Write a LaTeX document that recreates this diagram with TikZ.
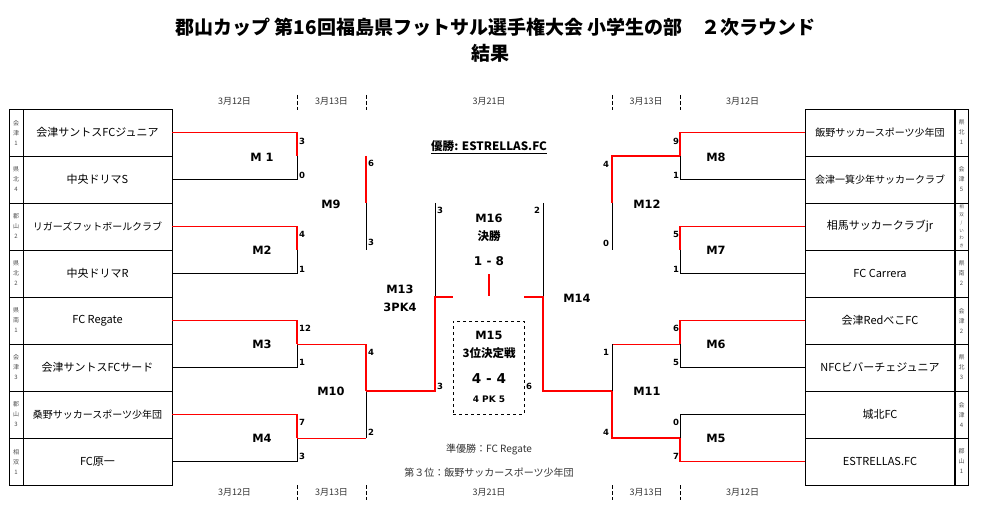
\documentclass[tikz,border=0pt]{standalone}
\usepackage{fontspec}
\newfontfamily\jp{Noto Sans CJK JP}
\newfontfamily\lat{DejaVu Sans}

\begin{document}
\begin{tikzpicture}[x=1pt,y=-1pt,
  headline/.style={font=\jp\bfseries\fontsize{19}{22}\selectfont},
  team/.style={draw, line width=0.9pt, minimum width=149pt, minimum height=47pt, inner sep=0pt, font=\jp\fontsize{11}{13}\selectfont},
  longteam/.style={team, font=\jp\fontsize{10}{12}\selectfont},
  area/.style={draw, line width=0.9pt, minimum width=14pt, minimum height=47pt, inner sep=0pt, align=center, text=black!70, font=\jp\fontsize{6}{10}\selectfont},
  match/.style={font=\lat\bfseries\fontsize{11.4}{13}\selectfont},
  score/.style={font=\lat\bfseries\fontsize{8.5}{10}\selectfont},
  day/.style={text=black!80, font=\jp\fontsize{9}{10}\selectfont},
  daytick/.style={dash pattern=on 4pt off 2pt, line width=0.8pt},
  win/.style={red, line width=1.8pt},
  winthin/.style={red, line width=1pt},
  lose/.style={black, line width=1pt}]
\useasboundingbox (0,0) rectangle (985,521);

% title
\node[headline] (title) at (495.5,27) {郡山カップ 第16回福島県フットサル選手権大会 小学生の部　２次ラウンド};
\node[headline] (title2) at (490,53) {結果};

% dates
\node[day] (d1) at (234.5,101) {3月12日};
\node[day] (d2) at (331.5,101) {3月13日};
\node[day] (d3) at (489,101) {3月21日};
\node[day] (d4) at (646,101) {3月13日};
\node[day] (d5) at (742.5,101) {3月12日};
\node[day] (d6) at (234.5,492) {3月12日};
\node[day] (d7) at (331.5,492) {3月13日};
\node[day] (d8) at (489,492) {3月21日};
\node[day] (d9) at (646,492) {3月13日};
\node[day] (d10) at (742.5,492) {3月12日};
\draw[daytick] (297,95) -- (297,110);
\draw[daytick] (366,95) -- (366,110);
\draw[daytick] (612,95) -- (612,110);
\draw[daytick] (680,95) -- (680,110);
\draw[daytick] (297,485) -- (297,500);
\draw[daytick] (366,485) -- (366,500);
\draw[daytick] (612,485) -- (612,500);
\draw[daytick] (680,485) -- (680,500);

% left teams
\node[area] (al1) at (16,132.5) {会\\津\\1};
\node[area] (al2) at (16,179.5) {県\\北\\4};
\node[area] (al3) at (16,226.5) {郡\\山\\2};
\node[area] (al4) at (16,273.5) {県\\北\\2};
\node[area] (al5) at (16,320.5) {県\\南\\1};
\node[area] (al6) at (16,367.5) {会\\津\\3};
\node[area] (al7) at (16,414.5) {郡\\山\\3};
\node[area] (al8) at (16,461.5) {相\\双\\1};
\node[team] (tl1) at (97.5,132.5) {会津サントスFCジュニア};
\node[team] (tl2) at (97.5,179.5) {中央ドリマS};
\node[longteam] (tl3) at (97.5,226.5) {リガーズフットボールクラブ};
\node[team] (tl4) at (97.5,273.5) {中央ドリマR};
\node[team] (tl5) at (97.5,320.5) {FC Regate};
\node[team] (tl6) at (97.5,367.5) {会津サントスFCサード};
\node[longteam] (tl7) at (97.5,414.5) {桑野サッカースポーツ少年団};
\node[team] (tl8) at (97.5,461.5) {FC原一};

% right teams
\node[longteam] (tr1) at (880,132.5) {飯野サッカースポーツ少年団};
\node[longteam] (tr2) at (880,179.5) {会津一箕少年サッカークラブ};
\node[team] (tr3) at (880,226.5) {相馬サッカークラブjr};
\node[team] (tr4) at (880,273.5) {FC Carrera};
\node[team] (tr5) at (880,320.5) {会津RedべこFC};
\node[team] (tr6) at (880,367.5) {NFCビバーチェジュニア};
\node[team] (tr7) at (880,414.5) {城北FC};
\node[team] (tr8) at (880,461.5) {ESTRELLAS.FC};
\node[area, minimum width=13pt] (ar1) at (961.5,132.5) {県\\北\\1};
\node[area, minimum width=13pt] (ar2) at (961.5,179.5) {会\\津\\5};
\node[area, minimum width=13pt, font=\jp\fontsize{4.5}{7.8}\selectfont] (ar3) at (961.5,226.5) {相\\双\\/\\い\\わ\\き};
\node[area, minimum width=13pt] (ar4) at (961.5,273.5) {県\\南\\2};
\node[area, minimum width=13pt] (ar5) at (961.5,320.5) {会\\津\\2};
\node[area, minimum width=13pt] (ar6) at (961.5,367.5) {県\\北\\3};
\node[area, minimum width=13pt] (ar7) at (961.5,414.5) {会\\津\\4};
\node[area, minimum width=13pt] (ar8) at (961.5,461.5) {郡\\山\\1};

% match points
\coordinate (m1) at (297,156);
\coordinate (m2) at (297,250);
\coordinate (m3) at (297,344);
\coordinate (m4) at (297,438);
\coordinate (m9) at (366,203);
\coordinate (m10) at (366,391);
\coordinate (m13) at (435,297);
\coordinate (m8) at (680,156);
\coordinate (m7) at (680,250);
\coordinate (m6) at (680,344);
\coordinate (m5) at (680,438);
\coordinate (m12) at (612,203);
\coordinate (m11) at (612,391);
\coordinate (m14) at (543,297);
\coordinate (m16) at (489,296);

% left bracket
\draw[win] (tl1.east) -| (m1);
\draw[lose] (tl2.east) -| (m1);
\draw[win] (tl3.east) -| (m2);
\draw[lose] (tl4.east) -| (m2);
\draw[win] (tl5.east) -| (m3);
\draw[lose] (tl6.east) -| (m3);
\draw[win] (tl7.east) -| (m4);
\draw[lose] (tl8.east) -| (m4);
\draw[win] (m1 -| m9) -- (m9);
\draw[lose] (m2 -| m9) -- (m9);
\draw[winthin] (m3) -- (m3 -| m10);
\draw[winthin] (m4) -- (m4 -| m10);
\draw[win] (m3 -| m10) -- (m10);
\draw[lose] (m4 -| m10) -- (m10);
\draw[lose] (m9 -| m13) -- (m13);
\draw[winthin, line width=1.3pt] (m10) -- (m10 -| m13) -- (m13) -- ++(18,0);

% right bracket
\draw[win] (tr1.west) -| (m8);
\draw[lose] (tr2.west) -| (m8);
\draw[win] (tr3.west) -| (m7);
\draw[lose] (tr4.west) -| (m7);
\draw[win] (tr5.west) -| (m6);
\draw[lose] (tr6.west) -| (m6);
\draw[lose] (tr7.west) -| (m5);
\draw[win] (tr8.west) -| (m5);
\draw[win] (m8) -- (m8 -| m12) -- (m12);
\draw[lose] (m7 -| m12) -- (m12);
\draw[winthin] (m6) -- (m6 -| m11);
\draw[lose] (m6 -| m11) -- (m11);
\draw[win] (m5) -- (m5 -| m11) -- (m11);
\draw[lose] (m12 -| m14) -- (m14);
\draw[winthin, line width=1.3pt] (m11) -- (m11 -| m14) -- (m14) -- ++(-19,0);

% final
\draw[win] (m16) -- ++(0,-22);

% match names
\node[match] (n1) at (262,157) {M 1};
\node[match] (n2) at (262,250) {M2};
\node[match] (n3) at (262,344) {M3};
\node[match] (n4) at (262,438) {M4};
\node[match] (n9) at (331,204) {M9};
\node[match] (n10) at (331,391) {M10};
\node[match] (n8) at (716,157) {M8};
\node[match] (n7) at (716,250) {M7};
\node[match] (n6) at (716,344) {M6};
\node[match] (n5) at (716,438) {M5};
\node[match] (n12) at (647,204) {M12};
\node[match] (n11) at (647,391) {M11};
\node[match] (n13) at (400,289) {M13};
\node[match] (pk13) at (400,307) {3PK4};
\node[match] (n14) at (577,298) {M14};
\node[match] (n16) at (489,218) {M16};
\node[match, font=\jp\bfseries\fontsize{11.5}{13}\selectfont] (fin) at (489,236) {決勝};
\node[match, font=\lat\bfseries\fontsize{12}{14}\selectfont] (r16) at (489,261) {1 - 8};

% 3rd place
\node[draw, dashed, line width=0.8pt, minimum width=71pt, minimum height=93pt] (m15) at (488.5,367.5) {};
\node[match] (n15) at (489,335) {M15};
\node[match, font=\jp\bfseries\fontsize{11.5}{13}\selectfont] (third) at (489,353) {3位決定戦};
\node[match, font=\lat\bfseries\fontsize{13.6}{15}\selectfont] (r15) at (489,379) {4 - 4};
\node[match, font=\lat\bfseries\fontsize{9}{11}\selectfont] (pk15) at (489,399) {4 PK 5};

% scores
\footnotesize
\node[score] (s1a) at (302,141) {3};
\node[score] (s1b) at (302,175) {0};
\node[score] (s2a) at (302,234) {4};
\node[score] (s2b) at (302,269) {1};
\node[score] (s3a) at (305,328) {12};
\node[score] (s3b) at (302,362) {1};
\node[score] (s4a) at (302,422) {7};
\node[score] (s4b) at (302,456) {3};
\node[score] (s9a) at (371,163) {6};
\node[score] (s9b) at (371,242) {3};
\node[score] (s10a) at (371,352) {4};
\node[score] (s10b) at (371,432) {2};
\node[score] (s13) at (440,386) {3};
\node[score] (s16a) at (440,210) {3};
\node[score] (s16b) at (537,210) {2};
\node[score] (s14) at (529,386) {6};
\node[score] (s8a) at (676,141) {9};
\node[score] (s8b) at (676,175) {1};
\node[score] (s7a) at (676,234) {5};
\node[score] (s7b) at (676,269) {1};
\node[score] (s6a) at (676,328) {6};
\node[score] (s6b) at (676,362) {5};
\node[score] (s5a) at (676,422) {0};
\node[score] (s5b) at (676,456) {7};
\node[score] (s12a) at (606,164) {4};
\node[score] (s12b) at (606,243) {0};
\node[score] (s11a) at (606,352) {1};
\node[score] (s11b) at (606,432) {4};

% results
\node[font=\jp\bfseries\fontsize{11.6}{13}\selectfont] (champ) at (489,147) {\underline{優勝: ESTRELLAS.FC}};
\node[text=black!80, font=\jp\fontsize{10}{12}\selectfont] (second) at (489,450) {準優勝：FC Regate};
\node[text=black!80, font=\jp\fontsize{10}{12}\selectfont] (bronze) at (489,473) {第３位：飯野サッカースポーツ少年団};
\end{tikzpicture}
\end{document}
